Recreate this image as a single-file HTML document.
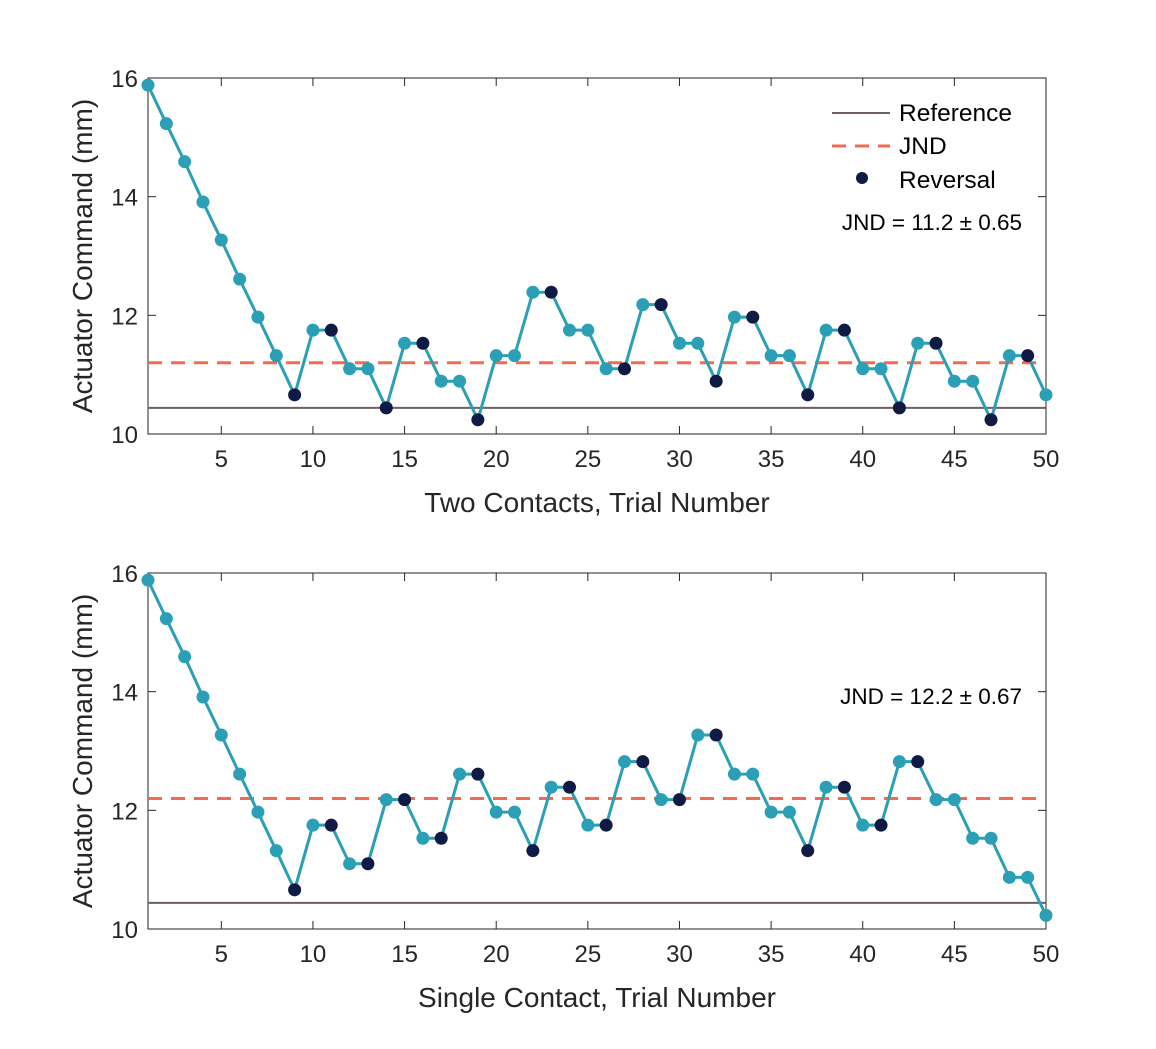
<!DOCTYPE html>
<html><head><meta charset="utf-8"><style>
body{margin:0;background:#fff;}
svg text{font-family:"Liberation Sans",sans-serif;fill:#262626;}
</style></head><body>
<svg id="chart" width="1156" height="1044" xmlns="http://www.w3.org/2000/svg"></svg>
<script>
const trials = Array.from({length:50},(_,i)=>i+1);
const twoContactValues = [15.88,15.23,14.59,13.91,13.27,12.61,11.97,11.32,10.66,11.75,11.75,11.10,11.10,10.44,11.53,11.53,10.89,10.89,10.24,11.32,11.32,12.39,12.39,11.75,11.75,11.10,11.10,12.18,12.18,11.53,11.53,10.89,11.97,11.97,11.32,11.32,10.66,11.75,11.75,11.10,11.10,10.44,11.53,11.53,10.89,10.89,10.24,11.32,11.32,10.66];
const twoContactReversals = [9,11,14,16,19,23,27,29,32,34,37,39,42,44,47,49];
const singleContactValues = [15.88,15.23,14.59,13.91,13.27,12.61,11.97,11.32,10.66,11.75,11.75,11.10,11.10,12.18,12.18,11.53,11.53,12.61,12.61,11.97,11.97,11.32,12.39,12.39,11.75,11.75,12.82,12.82,12.18,12.18,13.27,13.27,12.61,12.61,11.97,11.97,11.32,12.39,12.39,11.75,11.75,12.82,12.82,12.18,12.18,11.53,11.53,10.87,10.87,10.23];
const singleContactReversals = [9,11,13,15,17,19,22,24,26,28,30,32,37,39,41,43];
const referenceValues = [10.44,10.44];
const jndValues = [11.2,12.2];
const jndLabels = ["JND = 11.2 ± 0.65","JND = 12.2 ± 0.67"];
const xTicks = [5,10,15,20,25,30,35,40,45,50];
const yTicks = [10,12,14,16];
const xLabels = ["Two Contacts, Trial Number","Single Contact, Trial Number"];

const NS="http://www.w3.org/2000/svg";
const svg=document.getElementById('chart');
function mk(tag,attrs,parent){const e=document.createElementNS(NS,tag);for(const k in attrs)e.setAttribute(k,attrs[k]);(parent||svg).appendChild(e);return e;}

function panel(idx,top,values,revs){
  const L=148,R=1046,T=top,B=top+356;
  const x=t=>L+(t-1)*(R-L)/49;
  const y=v=>B-(v-10)*(B-T)/6;
  const g=mk('g',{});
  
  
  const box=mk('rect',{x:L,y:T,width:R-L,height:B-T,fill:'none',stroke:'#262626','stroke-width':1},g);
  
  xTicks.forEach(t=>{
    mk('line',{x1:x(t),x2:x(t),y1:B,y2:B-8,stroke:'#262626'},g);
    mk('line',{x1:x(t),x2:x(t),y1:T,y2:T+8,stroke:'#262626'},g);
    const tx=mk('text',{x:x(t),y:B+33,'text-anchor':'middle','font-size':24},g);tx.textContent=t;
    
  });
  yTicks.forEach(v=>{
    mk('line',{x1:L,x2:L+8,y1:y(v),y2:y(v),stroke:'#262626'},g);
    mk('line',{x1:R,x2:R-8,y1:y(v),y2:y(v),stroke:'#262626'},g);
    const tx=mk('text',{x:L-10,y:y(v)+9,'text-anchor':'end','font-size':24},g);tx.textContent=v;
    
  });
  const xl=mk('text',{x:(L+R)/2,y:B+78,'text-anchor':'middle','font-size':28},g);xl.textContent=xLabels[idx];
  
  const yl=mk('text',{x:0,y:0,'text-anchor':'middle','font-size':28,transform:`translate(92,${(T+B)/2}) rotate(-90)`},g);yl.textContent="Actuator Command (mm)";
  
  const ref=mk('line',{x1:L,x2:R,y1:y(referenceValues[idx]),y2:y(referenceValues[idx]),stroke:'#6e5f66','stroke-width':2},g);
  
  const jl=mk('line',{x1:L,x2:R,y1:y(jndValues[idx]),y2:y(jndValues[idx]),stroke:'#f26b4f','stroke-width':3,'stroke-dasharray':'14 9'},g);
  
  const pl=mk('polyline',{points:values.map((v,i)=>x(trials[i])+','+y(v)).join(' '),fill:'none',stroke:'#2a9fb5','stroke-width':3},g);
  
  values.forEach((v,i)=>{
    const r=revs.includes(trials[i]);
    const c=mk('circle',{cx:x(trials[i]),cy:y(v),r:6.5,fill:r?'#0f1a45':'#2a9fb5'},g);
    
    
  });
  const jt=mk('text',{x:1022,y:idx===0?T+152:T+131,'text-anchor':'end','font-size':22.5,style:'fill:#000'},g);jt.textContent=jndLabels[idx];
  
}
panel(0,78,twoContactValues,twoContactReversals);
panel(1,573,singleContactValues,singleContactReversals);

const lg=mk('g',{});

const items=[["Reference",113],["JND",146],["Reversal",180]];
mk('line',{x1:832,x2:890,y1:113,y2:113,stroke:'#6e5f66','stroke-width':2},lg);
mk('line',{x1:832,x2:890,y1:146,y2:146,stroke:'#f26b4f','stroke-width':3,'stroke-dasharray':'14 9'},lg);
mk('circle',{cx:862,cy:178,r:6,fill:'#0f1a45'},lg);
items.forEach(it=>{const t=mk('text',{x:899,y:it[1]+8,'font-size':24.5,style:'fill:#000'},lg);t.textContent=it[0];
});
</script>
</body></html>
